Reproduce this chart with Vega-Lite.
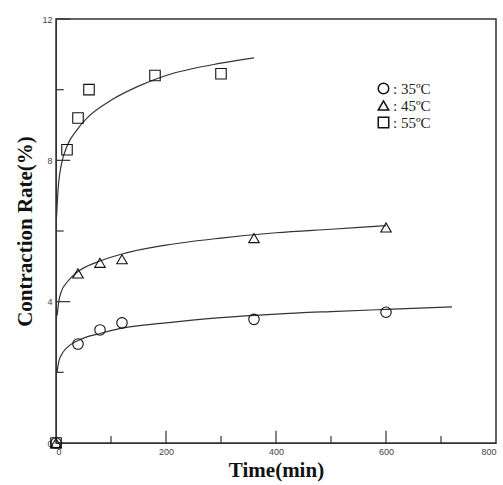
{
  "$schema": "https://vega.github.io/schema/vega-lite/v6.json",
  "width": 440,
  "height": 424,
  "autosize": "none",
  "padding": {"left": 56, "top": 19, "right": 7, "bottom": 42},
  "background": "white",
  "config": {
    "view": {"stroke": "#333", "strokeWidth": 1.5},
    "axis": {"grid": false, "ticks": false, "domainColor": "#333", "labelColor": "#444", "labelFont": "Liberation Sans", "labelFontSize": 9,
      "titleFont": "Liberation Serif", "titleFontWeight": "bold", "titleFontSize": 21, "titleColor": "#111"}
  },
  "datasets": {
    "pts": [
      {"t": 0, "r": 0, "s": ": 35ºC"}, {"t": 40, "r": 2.8, "s": ": 35ºC"}, {"t": 80, "r": 3.2, "s": ": 35ºC"}, {"t": 120, "r": 3.4, "s": ": 35ºC"}, {"t": 360, "r": 3.5, "s": ": 35ºC"}, {"t": 600, "r": 3.7, "s": ": 35ºC"},
      {"t": 0, "r": 0, "s": ": 45ºC"}, {"t": 40, "r": 4.8, "s": ": 45ºC"}, {"t": 80, "r": 5.1, "s": ": 45ºC"}, {"t": 120, "r": 5.2, "s": ": 45ºC"}, {"t": 360, "r": 5.8, "s": ": 45ºC"}, {"t": 600, "r": 6.1, "s": ": 45ºC"},
      {"t": 0, "r": 0, "s": ": 55ºC"}, {"t": 20, "r": 8.3, "s": ": 55ºC"}, {"t": 40, "r": 9.2, "s": ": 55ºC"}, {"t": 60, "r": 10.0, "s": ": 55ºC"}, {"t": 180, "r": 10.4, "s": ": 55ºC"}, {"t": 300, "r": 10.45, "s": ": 55ºC"}
    ],
    "fit": [
      {"t": 1, "r": 6.4, "s": "55"}, {"t": 3, "r": 7.0, "s": "55"}, {"t": 5, "r": 7.4, "s": "55"}, {"t": 10, "r": 7.9, "s": "55"}, {"t": 20, "r": 8.4, "s": "55"}, {"t": 40, "r": 8.9, "s": "55"}, {"t": 60, "r": 9.25, "s": "55"}, {"t": 100, "r": 9.7, "s": "55"}, {"t": 150, "r": 10.1, "s": "55"}, {"t": 200, "r": 10.4, "s": "55"}, {"t": 300, "r": 10.75, "s": "55"}, {"t": 360, "r": 10.9, "s": "55"},
      {"t": 2, "r": 3.6, "s": "45"}, {"t": 5, "r": 4.0, "s": "45"}, {"t": 10, "r": 4.3, "s": "45"}, {"t": 20, "r": 4.55, "s": "45"}, {"t": 40, "r": 4.85, "s": "45"}, {"t": 80, "r": 5.15, "s": "45"}, {"t": 120, "r": 5.35, "s": "45"}, {"t": 200, "r": 5.6, "s": "45"}, {"t": 300, "r": 5.8, "s": "45"}, {"t": 400, "r": 5.95, "s": "45"}, {"t": 500, "r": 6.05, "s": "45"}, {"t": 600, "r": 6.15, "s": "45"},
      {"t": 2, "r": 2.0, "s": "35"}, {"t": 5, "r": 2.3, "s": "35"}, {"t": 10, "r": 2.5, "s": "35"}, {"t": 20, "r": 2.7, "s": "35"}, {"t": 40, "r": 2.9, "s": "35"}, {"t": 80, "r": 3.1, "s": "35"}, {"t": 120, "r": 3.25, "s": "35"}, {"t": 200, "r": 3.4, "s": "35"}, {"t": 300, "r": 3.55, "s": "35"}, {"t": 400, "r": 3.65, "s": "35"}, {"t": 500, "r": 3.72, "s": "35"}, {"t": 600, "r": 3.78, "s": "35"}, {"t": 720, "r": 3.85, "s": "35"}
    ],
    "xticks": [
      {"t": 100, "len": 0.2}, {"t": 200, "len": 0.35}, {"t": 300, "len": 0.2}, {"t": 400, "len": 0.35},
      {"t": 500, "len": 0.2}, {"t": 600, "len": 0.35}, {"t": 700, "len": 0.2}
    ],
    "yticks": [
      {"r": 2, "len": 14}, {"r": 4, "len": 26}, {"r": 6, "len": 14}, {"r": 8, "len": 26}, {"r": 10, "len": 14}, {"r": 12, "len": 26}
    ]
  },
  "layer": [
    {
      "data": {"name": "fit"},
      "mark": {"type": "line", "color": "#333", "strokeWidth": 1.2, "interpolate": "monotone"},
      "encoding": {
        "x": {"field": "t", "type": "quantitative", "scale": {"domain": [0, 800]},
          "axis": {"title": "Time(min)", "values": [0,200,400,600,800], "labelPadding": 4, "titlePadding": 3}},
        "y": {"field": "r", "type": "quantitative", "scale": {"domain": [0, 12]},
          "axis": {"title": "Contraction Rate(%)", "values": [0,4,8,12], "labelPadding": 4, "titlePadding": 6}},
        "detail": {"field": "s"}
      }
    },
    {
      "data": {"name": "xticks"},
      "mark": {"type": "rule", "color": "#333", "strokeWidth": 1.2},
      "encoding": {
        "x": {"field": "t", "type": "quantitative"},
        "y": {"field": "len", "type": "quantitative"},
        "y2": {"datum": 0}
      }
    },
    {
      "data": {"name": "yticks"},
      "mark": {"type": "rule", "color": "#333", "strokeWidth": 1.2},
      "encoding": {
        "y": {"field": "r", "type": "quantitative"},
        "x": {"field": "len", "type": "quantitative"},
        "x2": {"datum": 0}
      }
    },
    {
      "data": {"name": "pts"},
      "mark": {"type": "point", "filled": false, "color": "#111", "size": 110, "strokeWidth": 1.1, "opacity": 1},
      "encoding": {
        "x": {"field": "t", "type": "quantitative"},
        "y": {"field": "r", "type": "quantitative"},
        "shape": {"field": "s", "type": "nominal",
          "scale": {"domain": [": 35ºC", ": 45ºC", ": 55ºC"], "range": ["circle", "triangle-up", "square"]},
          "legend": {"orient": "none", "legendX": 320, "legendY": 62, "title": null, "labelFont": "Liberation Serif", "labelFontSize": 15, "labelColor": "#222",
            "symbolStrokeColor": "#111", "symbolFillColor": "transparent", "symbolSize": 110, "rowPadding": 0, "labelOffset": 2}}
      }
    }
  ]
}
